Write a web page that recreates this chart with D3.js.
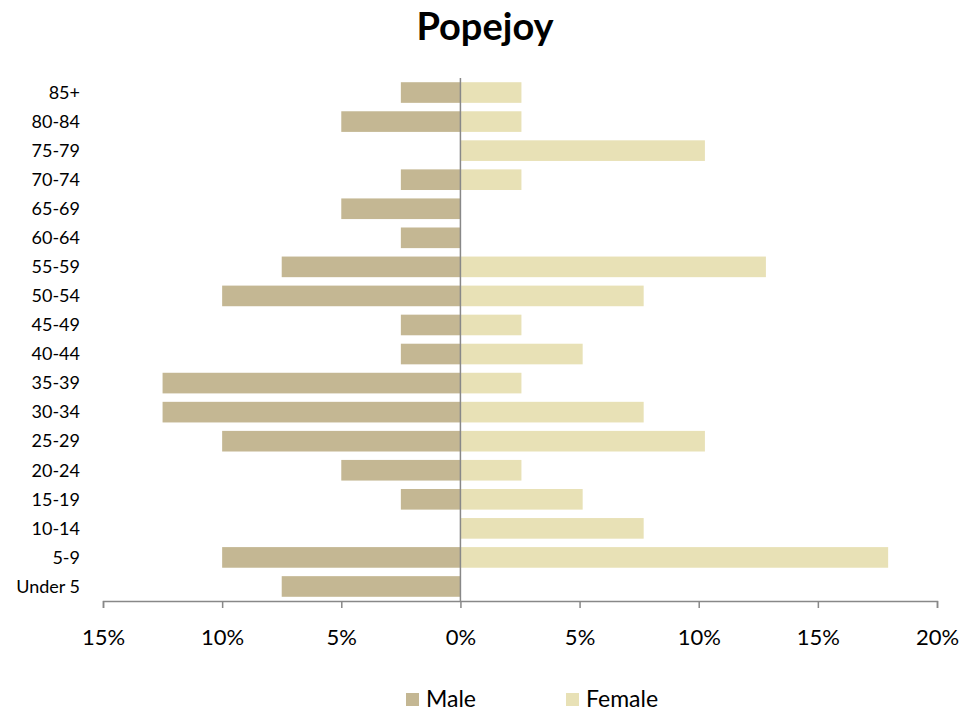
<!DOCTYPE html>
<html>
<head>
<meta charset="utf-8">
<script src="https://cdn.jsdelivr.net/npm/d3@7"></script>
<style>
  body { margin: 0; background: #fff; }
  text { font-family: Lato, "Open Sans", "Liberation Sans", sans-serif; fill: #000; }
</style>
</head>
<body>
<script>
// age groups, top to bottom
var ageGroups = ["85+", "80-84", "75-79", "70-74", "65-69", "60-64", "55-59", "50-54", "45-49",
                 "40-44", "35-39", "30-34", "25-29", "20-24", "15-19", "10-14", "5-9", "Under 5"];
// percent of population (male drawn to the left)
var maleValues = [2.5, 5, 0, 2.5, 5, 2.5, 7.5, 10, 2.5, 2.5, 12.5, 12.5, 10, 5, 2.5, 0, 10, 7.5];
var femaleValues = [2.56, 2.56, 10.26, 2.56, 0, 0, 12.82, 7.69, 2.56, 5.13, 2.56, 7.69, 10.26, 2.56, 5.13, 7.69, 17.95, 0];
var tickValues = [-15, -10, -5, 0, 5, 10, 15, 20];
var seriesNames = ["Male", "Female"];
var seriesColors = ["#c4b793", "#e8e1b6"];

var w = 979, h = 713;
var margin = {top: 78, right: 42, bottom: 112, left: 103};

var svg = d3.select("body").append("svg")
            .attr("width", w)
            .attr("height", h);

// title
svg.append("text")
   .attr("x", 485)
   .attr("y", 40)
   .attr("text-anchor", "middle")
   .style("font-size", "38px")
   .style("font-weight", "bold")
   .text("Popejoy");

var xScale = d3.scaleLinear()
               .domain([-15, 20])
               .range([margin.left, w - margin.right]);

var yScale = d3.scaleBand()
               .domain(ageGroups)
               .range([margin.top, h - margin.bottom])
               .paddingInner(0.29)
               .paddingOuter(0.145);

// male bars
svg.selectAll(".male")
   .data(maleValues)
   .enter().append("rect")
   .attr("class", "male")
   .attr("x", function(d) { return xScale(-d); })
   .attr("y", function(d, i) { return yScale(ageGroups[i]); })
   .attr("width", function(d) { return xScale(0) - xScale(-d); })
   .attr("height", yScale.bandwidth())
   .style("fill", seriesColors[0]);

// female bars
svg.selectAll(".female")
   .data(femaleValues)
   .enter().append("rect")
   .attr("class", "female")
   .attr("x", xScale(0))
   .attr("y", function(d, i) { return yScale(ageGroups[i]); })
   .attr("width", function(d) { return xScale(d) - xScale(0); })
   .attr("height", yScale.bandwidth())
   .style("fill", seriesColors[1]);

// category labels
svg.selectAll(".cat")
   .data(ageGroups)
   .enter().append("text")
   .attr("class", "cat")
   .attr("x", 80)
   .attr("y", function(d) { return yScale(d) + yScale.bandwidth() / 2; })
   .attr("dy", "0.35em")
   .attr("text-anchor", "end")
   .style("font-size", "18px")
   .text(function(d) { return d; });

// center line
svg.append("line")
   .attr("x1", xScale(0)).attr("x2", xScale(0))
   .attr("y1", margin.top).attr("y2", h - margin.bottom)
   .style("stroke", "#888")
   .style("stroke-width", 1.5);

// x axis
var xAxis = svg.append("g")
   .attr("transform", "translate(0," + (h - margin.bottom) + ")")
   .call(d3.axisBottom(xScale)
           .tickValues(tickValues)
           .tickSize(7)
           .tickFormat(function(d) { return Math.abs(d) + "%"; }));

xAxis.select(".domain").style("stroke", "#888").style("stroke-width", 1.5);
xAxis.selectAll(".tick line").style("stroke", "#888").style("stroke-width", 1.5);
xAxis.selectAll(".tick text")
     .attr("y", 28)
     .style("font-size", "22px")
     .style("font-family", "Lato, 'Open Sans', 'Liberation Sans', sans-serif")
     .style("fill", "#000");

// legend
var legendX = [406, 566];
seriesNames.forEach(function(name, i) {
  svg.append("rect")
     .attr("x", legendX[i])
     .attr("y", 693)
     .attr("width", 13)
     .attr("height", 13)
     .style("fill", seriesColors[i]);
  svg.append("text")
     .attr("x", legendX[i] + 20)
     .attr("y", 707)
     .style("font-size", "23px")
     .text(name);
});
</script>
</body>
</html>
